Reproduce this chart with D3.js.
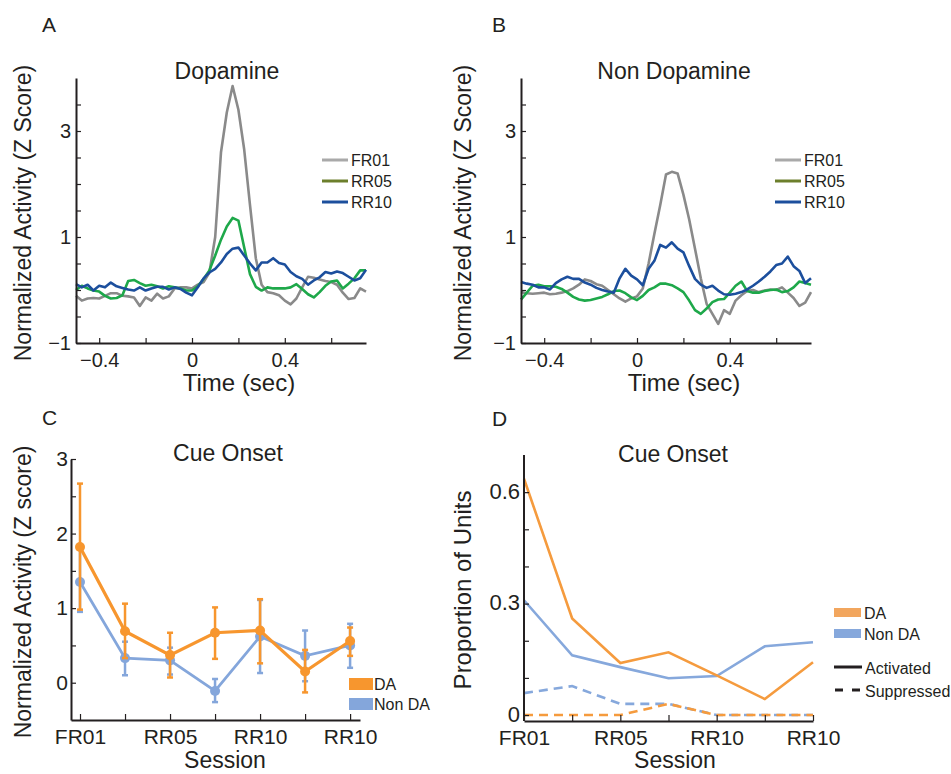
<!DOCTYPE html>
<html>
<head>
<meta charset="utf-8">
<script src="https://cdn.jsdelivr.net/npm/d3@7"></script>
<style>
body { margin: 0; background: #fff; }
text { font-family: "Liberation Sans", Arial, sans-serif; fill: #231f20; }
</style>
</head>
<body>
<svg id="fig" width="951" height="774"></svg>
<script>
// ---- data ----
var timePts = [-0.5,-0.475,-0.45,-0.425,-0.4,-0.375,-0.35,-0.325,-0.3,-0.275,
               -0.25,-0.225,-0.2,-0.175,-0.15,-0.125,-0.1,-0.075,-0.05,-0.025,
               0,0.025,0.05,0.075,0.1,0.125,0.15,0.175,0.2,0.225,
               0.25,0.275,0.3,0.325,0.35,0.375,0.4,0.425,0.45,0.475,
               0.5,0.525,0.55,0.575,0.6,0.625,0.65,0.675,0.7,0.725,0.75];

// dopamine units
var daFR01 = [-0.11,-0.2,-0.16,-0.15,-0.16,-0.11,-0.06,-0.06,-0.11,-0.12,
              -0.14,-0.3,-0.14,-0.2,-0.07,-0.16,-0.12,0.03,0.05,0.05,
              0.03,0.1,0.15,0.33,1.0,2.6,3.35,3.85,3.4,2.65,
              1.6,0.6,0.1,-0.04,-0.06,-0.1,-0.2,-0.27,-0.16,0.05,
              0.25,0.23,0.2,0.17,0.15,0.1,-0.05,-0.17,-0.15,0.03,-0.03];
var daRR05 = [0.0,0.08,0.03,-0.01,-0.03,-0.11,-0.16,-0.15,-0.1,0.17,
              0.19,0.13,0.08,0.1,0.07,0.03,0.07,0.05,0.03,-0.01,
              -0.01,0.07,0.21,0.37,0.65,0.95,1.2,1.36,1.31,0.8,
              0.3,0.06,-0.01,0.05,0.03,0.03,0.03,0.05,0.11,0.02,
              -0.08,-0.14,-0.04,0.08,0.16,0.18,0.03,0.12,0.22,0.37,0.37];
var daRR10 = [0.11,0.05,0.1,-0.01,0.08,0.05,0.14,0.07,0.04,0.01,
              -0.01,0.05,-0.01,0.03,0.06,0.06,0.01,0.05,0.02,-0.05,
              -0.1,0.05,0.22,0.33,0.4,0.52,0.68,0.78,0.8,0.65,
              0.5,0.37,0.52,0.52,0.6,0.51,0.48,0.34,0.26,0.21,
              0.1,0.18,0.24,0.34,0.31,0.35,0.32,0.25,0.18,0.22,0.38];

// non dopamine units
var ndFR01 = [-0.04,-0.06,-0.07,-0.06,-0.05,-0.08,-0.07,-0.05,-0.02,0.03,
              0.1,0.2,0.17,0.11,0.08,0.0,-0.08,-0.16,-0.22,-0.16,
              -0.12,0.03,0.5,1.06,1.6,2.18,2.23,2.2,1.8,1.33,
              0.78,0.22,-0.26,-0.45,-0.64,-0.38,-0.45,-0.2,-0.1,-0.02,
              0.0,-0.04,-0.01,0.01,0.0,0.05,-0.05,-0.15,-0.3,-0.24,-0.04];
var ndRR05 = [-0.18,-0.05,0.08,0.1,0.07,0.07,0.06,0.02,-0.05,-0.13,
              -0.18,-0.2,-0.19,-0.16,-0.13,-0.08,-0.02,-0.01,-0.06,-0.14,
              -0.19,-0.11,0.0,0.05,0.12,0.12,0.09,0.03,-0.04,-0.2,
              -0.38,-0.45,-0.35,-0.23,-0.18,-0.17,-0.05,0.08,0.16,-0.02,
              -0.05,-0.05,-0.02,0.0,0.01,-0.04,-0.02,0.05,0.16,0.13,0.1];
var ndRR10 = [0.15,0.12,0.1,0.05,0.05,0.01,0.13,0.2,0.25,0.21,
              0.21,0.14,0.1,0.04,0.0,-0.03,-0.05,0.22,0.4,0.27,
              0.2,0.09,0.4,0.55,0.85,0.8,0.9,0.78,0.71,0.45,
              0.21,0.1,0.04,0.08,-0.01,-0.08,-0.09,-0.07,-0.04,0.01,
              0.08,0.16,0.25,0.35,0.47,0.5,0.63,0.45,0.36,0.13,0.22];

var traceNames = ["FR01", "RR05", "RR10"];
var timeTicks = [-0.4, -0.2, 0, 0.2, 0.4, 0.6];
var timeLabels = [-0.4, 0, 0.4];
var zTicks = [-1, -0.5, 0, 0.5, 1, 1.5, 2, 2.5, 3, 3.5];
var zLabels = [-1, 1, 3];

// cue onset, per session
var sessions = [1, 2, 3, 4, 5, 6, 7];
var sessionTicks = [1, 3, 5, 7];
var sessionLabels = ["FR01", "RR05", "RR10", "RR10"];
var daMean = [1.82, 0.69, 0.37, 0.67, 0.70, 0.15, 0.56];
var daLo   = [0.98, 0.33, 0.07, 0.32, 0.26, -0.13, 0.36];
var daHi   = [2.67, 1.06, 0.67, 1.01, 1.12, 0.44, 0.74];
var ndMean = [1.35, 0.33, 0.30, -0.11, 0.62, 0.36, 0.50];
var ndLo   = [0.95, 0.10, 0.11, -0.26, 0.13, 0.02, 0.20];
var ndHi   = [1.80, 0.55, 0.47, 0.05, 1.11, 0.70, 0.79];
var cueTicks = [0, 0.5, 1, 1.5, 2, 2.5, 3];
var cueLabels = [0, 1, 2, 3];

// proportion of units
var daActivated  = [0.636, 0.26, 0.14, 0.169, 0.107, 0.043, 0.142];
var ndActivated  = [0.309, 0.161, 0.129, 0.099, 0.105, 0.185, 0.196];
var daSuppressed = [0, 0, 0, 0.03, 0, 0, 0];
var ndSuppressed = [0.059, 0.078, 0.03, 0.03, 0, 0, 0];
var propTicks = [0, 0.1, 0.2, 0.3, 0.4, 0.5, 0.6];
var propLabels = [0, 0.3, 0.6];

// ---- drawing ----
var svg = d3.select("#fig");
var ink = "#231f20";
var fmt = d3.format("~g");

var cGray = "#8a8a8a", cGreen = "#1ea84a", cBlue = "#1c4f9d";
var cOrange = "#f7962e", cLightBlue = "#84a6db";

function addText(x, y, s, size, anchor) {
    return svg.append("text")
        .attr("x", x)
        .attr("y", y)
        .attr("text-anchor", anchor || "start")
        .style("font-size", size + "px")
        .text(s);
}

function yLabel(x, y, s, size) {
    svg.append("text")
        .attr("transform", "translate(" + x + "," + y + ") rotate(-90)")
        .attr("text-anchor", "middle")
        .style("font-size", size + "px")
        .text(s);
}

function styleAxis(g, size) {
    g.attr("font-size", size).attr("font-family", null);
    g.select(".domain").attr("stroke", ink).attr("stroke-width", 2);
    g.selectAll(".tick line").attr("stroke", ink).attr("stroke-width", 1.2);
}

function tracePanel(xr, title, titleX, series, legendX, labelX) {
    var x = d3.scaleLinear().domain([-0.5, 0.75]).range(xr);
    var y = d3.scaleLinear().domain([-1, 4]).range([343, 78]);
    var line = d3.line()
        .x(function(d, i) { return x(timePts[i]); })
        .y(function(d) { return y(d); });

    series.forEach(function(s) {
        svg.append("path")
            .datum(s.values)
            .attr("d", line)
            .attr("fill", "none")
            .attr("stroke", s.color)
            .attr("stroke-width", 2.6)
            .attr("stroke-linejoin", "round");
    });

    var gx = svg.append("g")
        .attr("transform", "translate(0," + y(-1) + ")")
        .call(d3.axisBottom(x).tickValues(timeTicks)
            .tickFormat(function(d) { return timeLabels.indexOf(d) >= 0 ? fmt(d) : ""; })
            .tickSizeInner(-5).tickSizeOuter(0));
    styleAxis(gx, 20);
    gx.selectAll(".tick text").attr("y", 24).attr("dy", 0);

    var gy = svg.append("g")
        .attr("transform", "translate(" + xr[0] + ",0)")
        .call(d3.axisLeft(y).tickValues(zTicks)
            .tickFormat(function(d) { return zLabels.indexOf(d) >= 0 ? fmt(d) : ""; })
            .tickSizeInner(-5).tickSizeOuter(0).tickPadding(5));
    styleAxis(gy, 20);

    addText(titleX, 79, title, 23, "middle");
    addText((xr[0] + xr[1]) / 2 + 18, 391, "Time (sec)", 24, "middle");
    yLabel(labelX, 213, "Normalized Activity (Z Score)", 23);

    // legend
    var legendColors = ["#a9a9a9", "#6c7f2c", cBlue];
    traceNames.forEach(function(n, i) {
        svg.append("line")
            .attr("x1", legendX).attr("x2", legendX + 26)
            .attr("y1", 160 + i * 21).attr("y2", 160 + i * 21)
            .attr("stroke", legendColors[i])
            .attr("stroke-width", 3);
        addText(legendX + 29, 160 + i * 21, n, 16).attr("dy", "0.35em");
    });
}

tracePanel([76, 366], "Dopamine", 227, [
    {values: daFR01, color: cGray},
    {values: daRR05, color: cGreen},
    {values: daRR10, color: cBlue}
], 322, 31);

tracePanel([521, 811], "Non Dopamine", 674, [
    {values: ndFR01, color: cGray},
    {values: ndRR05, color: cGreen},
    {values: ndRR10, color: cBlue}
], 775, 471);

// panel letters
addText(42, 32, "A", 21);
addText(492, 32, "B", 21);
addText(42, 425, "C", 21);
addText(492, 426, "D", 21);

// ---- C: cue onset activity ----
var xc = d3.scaleLinear().domain([0.8, 7.22]).range([71, 360]);
var yc = d3.scaleLinear().domain([-0.5, 3]).range([720, 459]);

function errorSeries(mean, lo, hi, color, width) {
    var g = svg.append("g");
    var line = d3.line()
        .x(function(d, i) { return xc(sessions[i]); })
        .y(function(d) { return yc(d); });
    sessions.forEach(function(s, i) {
        g.append("line")
            .attr("x1", xc(s)).attr("x2", xc(s))
            .attr("y1", yc(lo[i])).attr("y2", yc(hi[i]))
            .attr("stroke", color).attr("stroke-width", 2.5);
        [lo[i], hi[i]].forEach(function(v) {
            g.append("line")
                .attr("x1", xc(s) - 3).attr("x2", xc(s) + 3)
                .attr("y1", yc(v)).attr("y2", yc(v))
                .attr("stroke", color).attr("stroke-width", 2.5);
        });
    });
    g.append("path")
        .datum(mean)
        .attr("d", line)
        .attr("fill", "none")
        .attr("stroke", color)
        .attr("stroke-width", width);
    g.selectAll("circle")
        .data(mean)
        .enter()
        .append("circle")
        .attr("cx", function(d, i) { return xc(sessions[i]); })
        .attr("cy", function(d) { return yc(d); })
        .attr("r", 5)
        .attr("fill", color);
}

errorSeries(ndMean, ndLo, ndHi, cLightBlue, 2.8);
errorSeries(daMean, daLo, daHi, cOrange, 3.2);

var gcx = svg.append("g")
    .attr("transform", "translate(0," + yc(-0.5) + ")")
    .call(d3.axisBottom(xc).tickValues(sessions)
        .tickFormat(function(d) { var k = sessionTicks.indexOf(d); return k >= 0 ? sessionLabels[k] : ""; })
        .tickSizeInner(-6).tickSizeOuter(0));
styleAxis(gcx, 21);
gcx.selectAll(".tick text").attr("y", 24).attr("dy", 0);

var gcy = svg.append("g")
    .attr("transform", "translate(" + xc(0.8) + ",0)")
    .call(d3.axisLeft(yc).tickValues(cueTicks)
        .tickFormat(function(d) { return cueLabels.indexOf(d) >= 0 ? fmt(d) : ""; })
        .tickSizeInner(-5).tickSizeOuter(0).tickPadding(3));
styleAxis(gcy, 21);

addText(228, 461, "Cue Onset", 23, "middle");
addText(225, 768, "Session", 23, "middle");
yLabel(31, 592, "Normalized Activity (Z score)", 23);

// legend C
[["DA", cOrange], ["Non DA", cLightBlue]].forEach(function(e, i) {
    svg.append("rect")
        .attr("x", 349).attr("y", 678 + i * 20)
        .attr("width", 24).attr("height", 12)
        .attr("fill", e[1]);
    addText(374, 684 + i * 20, e[0], 16).attr("dy", "0.35em");
});

// ---- D: proportion of units ----
var xd = d3.scaleLinear().domain([1, 7]).range([524, 813]);
var yd = d3.scaleLinear().domain([-0.016, 0.7]).range([721, 455]);
var dline = d3.line()
    .x(function(d, i) { return xd(sessions[i]); })
    .y(function(d) { return yd(d); });

var cOrangeD = "#f59b3e", cBlueD = "#86a8dc";
[
    {v: ndSuppressed, c: cBlueD, dash: "9,6"},
    {v: daSuppressed, c: cOrangeD, dash: "9,6"},
    {v: ndActivated, c: cBlueD, dash: null},
    {v: daActivated, c: cOrangeD, dash: null}
].forEach(function(s) {
    svg.append("path")
        .datum(s.v)
        .attr("d", dline)
        .attr("fill", "none")
        .attr("stroke", s.c)
        .attr("stroke-width", 2.6)
        .attr("stroke-dasharray", s.dash);
});

var gdx = svg.append("g")
    .attr("transform", "translate(0," + yd(-0.016) + ")")
    .call(d3.axisBottom(xd).tickValues(sessions)
        .tickFormat(function(d) { var k = sessionTicks.indexOf(d); return k >= 0 ? sessionLabels[k] : ""; })
        .tickSizeInner(-6).tickSizeOuter(0));
styleAxis(gdx, 21);
gdx.selectAll(".tick text").attr("y", 24).attr("dy", 0);

var gdy = svg.append("g")
    .attr("transform", "translate(" + xd(1) + ",0)")
    .call(d3.axisLeft(yd).tickValues(propTicks)
        .tickFormat(function(d) { return propLabels.indexOf(d) >= 0 ? fmt(d) : ""; })
        .tickSizeInner(-5).tickSizeOuter(0).tickPadding(4));
styleAxis(gdy, 22);
gdy.selectAll(".tick text").attr("dy", "0.28em");
gdy.select(".domain").attr("d", "M0," + yd(-0.016) + "V" + yd(0.7));

addText(673, 462, "Cue Onset", 23, "middle");
addText(675, 768, "Session", 23, "middle");
yLabel(471, 590, "Proportion of Units", 24);

// legend D
[["DA", "#f2a65e"], ["Non DA", cBlueD]].forEach(function(e, i) {
    svg.append("rect")
        .attr("x", 834).attr("y", 608 + i * 21)
        .attr("width", 27).attr("height", 9)
        .attr("fill", e[1]);
    addText(864, 613 + i * 21, e[0], 16).attr("dy", "0.35em");
});
svg.append("line")
    .attr("x1", 834).attr("x2", 862).attr("y1", 667).attr("y2", 667)
    .attr("stroke", ink).attr("stroke-width", 3);
addText(865, 668, "Activated", 16).attr("dy", "0.35em");
svg.append("line")
    .attr("x1", 835).attr("x2", 860).attr("y1", 690).attr("y2", 690)
    .attr("stroke", ink).attr("stroke-width", 3)
    .attr("stroke-dasharray", "8,9");
addText(865, 691, "Suppressed", 16).attr("dy", "0.35em");
</script>
</body>
</html>
